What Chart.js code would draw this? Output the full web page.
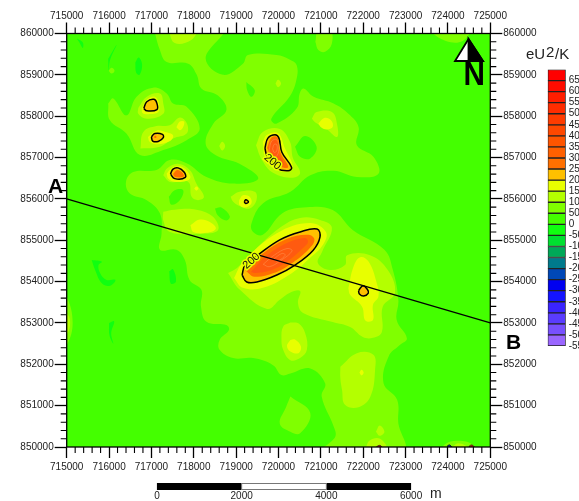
<!DOCTYPE html>
<html>
<head>
<meta charset="utf-8">
<style>
  html, body { margin: 0; padding: 0; background: #fff; overflow: hidden; }
  #mapa { position: absolute; left: 0; top: 0; }
  #barra { position: absolute; left: 545px; top: 60px; }
</style>
<script src="https://cdn.jsdelivr.net/npm/chart.js@4/dist/chart.umd.js"></script>
</head>
<body>
<canvas id="mapa" width="579" height="501"></canvas>
<canvas id="barra" width="34" height="300"></canvas>
<script>
// contour outlines, in map metres
const nivel50Principal = [[717060,860100],[718690,860100],[718280,859400],[718690,859000],[719160,859270],[719280,859480],[719950,859480],[720260,859370],[720430,859230],[720420,858870],[720260,858470],[719830,857940],[719950,857820],[720430,858190],[720500,858550],[720590,858670],[720830,858470],[721300,858310],[721650,858060],[721890,857740],[721850,857300],[722240,857020],[722360,856610],[721850,856530],[721300,856680],[720750,856570],[720280,856170],[719630,855890],[719360,855400],[719400,855200],[719630,855130],[720100,855660],[720670,855800],[721280,855730],[721750,855250],[722500,854770],[722700,854280],[722830,853550],[722790,853070],[723030,852630],[722870,852470],[722600,852190],[722480,851540],[722800,851140],[722830,850570],[722950,849930],[721060,849930],[721340,850250],[721300,850500],[721020,851220],[721100,851540],[720750,851900],[720280,851780],[720070,851740],[719870,851980],[719400,852150],[718930,852150],[718610,852350],[718610,852590],[718830,852830],[718770,852950],[718300,853030],[718170,853400],[718180,853800],[717900,854040],[717790,854520],[717590,854770],[717200,854770],[717240,855170],[717200,855650],[716890,855970],[716490,856130],[716400,856410],[716570,856650],[717120,856700],[717430,856940],[717830,856860],[718300,856530],[718930,856370],[719520,856490],[719080,856850],[718530,857050],[718280,857340],[718460,857820],[718770,858150],[718570,858500],[718180,858670],[718070,859000],[717870,859270],[717360,859310],[717200,859600]];
const nivel50Ilha = [[715980,858310],[716100,858430],[716410,858020],[716650,858470],[717040,858690],[717360,858550],[717510,858310],[717830,858230],[718140,857700],[717830,857420],[717280,857180],[716730,857060],[716410,857580],[716020,857900]];
const nivel50Sul = [[720280,851220],[720750,850820],[720510,850330],[720280,850370],[720030,850570],[720180,850970]];
const nivel50Topo = [[720870,859800],[720940,860100],[721220,860100],[721260,859760],[721100,859560],[720940,859600]];
const nivel50Canto = [[723500,860100],[723950,859820],[724350,859820],[724500,860100]];
const nivel50Borda = [[714900,853600],[715020,853600],[715140,853000],[715020,852500],[714900,852500]];
const nivel50Base = [[723800,849900],[723950,850080],[724200,850150],[724550,850080],[724650,849900]];
const nivel50Ponto = [[715990,859100],[716060,859170],[716130,859100],[716060,859030]];

const buraco1 = [[717410,856050],[717550,856210],[717750,856210],[717670,855970],[717470,855860]];
const buraco2 = [[718500,855770],[718650,855790],[718850,855580],[718770,855480],[718570,855600]];
const buraco3 = [[719240,858830],[719440,858630],[719360,858470],[719260,858630]];
const buraco4 = [[720390,857260],[720630,857520],[720900,857260],[720750,856980],[720510,857020]];

const negativo1 = [[716620,859300],[716700,859420],[716780,859250],[716720,859000],[716640,859050]];
const negativo2 = [[715590,854520],[715830,854480],[715750,854400],[715790,854200],[715940,854040],[716150,854040],[716020,853900],[715830,853960],[715670,854280]];
const negativo3 = [[715980,859390],[716180,859730],[716020,859350],[715990,859100]];
const negativo4 = [[717420,854250],[717510,854300],[717580,854000],[717460,853950]];
const negativo5 = [[716000,853000],[716120,853040],[716050,852750],[716100,852500],[716010,852700]];
const negativo6 = [[715240,859880],[715380,859780],[715380,859650],[715290,859800]];

const nivel100a = [[716690,858200],[716890,858470],[717200,858550],[717280,858310],[717280,858060],[716890,857940],[716690,858060]];
const nivel100b = [[716740,857220],[716810,857620],[717120,857760],[717430,857780],[717670,857970],[717840,857820],[717830,857580],[717510,857460],[717200,857260]];
const nivel100c = [[717280,856570],[717360,856730],[717630,856850],[717910,856690],[718060,856370],[718240,856050],[718100,855970],[717950,856050],[717870,856410],[717440,856410]];
const nivel100d = [[718870,856050],[719080,856170],[719440,856170],[719480,855970],[719320,855770],[719120,855810],[718930,855930]];
const nivel100e = [[717280,855690],[717550,855740],[718060,855740],[718460,855560],[718570,855240],[718140,855160],[717440,855200],[717280,855480]];
const nivel100f = [[719470,857300],[719630,857620],[720030,857690],[720270,857380],[720340,856990],[720510,856630],[720340,856510],[719870,856630],[719610,856940]];
const nivel100g = [[720790,857940],[720900,858100],[721260,858100],[721380,857820],[721380,857500],[721100,857720],[720870,857850]];
const nivel100Centro = [[718810,854210],[719090,853800],[719730,853340],[720030,853560],[720270,853730],[720510,853770],[720460,853480],[720580,853240],[721280,853020],[721690,852900],[721990,852660],[722230,852640],[722440,852780],[722460,853390],[722750,853730],[722580,854280],[722160,854640],[721620,854640],[721570,854400],[721210,854280],[720930,854450],[721030,854720],[721260,855300],[720980,855490],[720510,855540],[720030,855300],[719400,854720],[719020,854330]];
const nivel100h = [[720280,853010],[720470,852990],[720630,852750],[720670,852350],[720510,852150],[720280,852100],[720110,852350],[720070,852630],[720110,852910]];
const nivel100i = [[721460,851940],[721850,852270],[722240,852230],[722280,851860],[722170,851220],[721890,850960],[721570,851020],[721500,851380],[721460,851660]];
const nivel100j = [[722300,850370],[722390,850520],[722500,850370],[722390,850270]];
const nivel100k = [[722050,849950],[722150,850160],[722400,850200],[722550,849950]];
const nivel100l = [[717400,860100],[717550,859770],[717950,859850],[718050,860100]];
const nivel100m = [[718600,857280],[718670,857380],[718740,857280],[718670,857170]];
const nivel100n = [[719930,858790],[719990,858880],[720060,858790],[719990,858700]];
const nivel100o = [[714900,853300],[715030,853200],[715080,853000],[715020,852750],[714900,852700]];
const nivel100p = [[724100,850000],[724250,850090],[724450,850000]];

const nivel150a = [[716770,858190],[716890,858400],[717080,858470],[717180,858310],[717160,858100],[716930,858050],[716790,858080]];
const nivel150b = [[716920,857500],[717120,857650],[717320,857620],[717510,857540],[717440,857400],[717120,857320],[716960,857380]];
const nivel150c = [[717590,857730],[717670,857870],[717770,857870],[717750,857740],[717670,857660]];
const nivel150d = [[717360,856610],[717480,856750],[717670,856790],[717830,856690],[717910,856490],[717590,856410],[717400,856490]];
const nivel150e = [[718010,856250],[718060,856300],[718110,856250],[718060,856200]];
const nivel150f = [[719070,855970],[719160,856090],[719320,856050],[719360,855890],[719200,855790],[719080,855850]];
const nivel150g = [[717920,855360],[718140,855500],[718380,855440],[718520,855280],[718300,855180],[717990,855200]];
const nivel150h = [[719630,857380],[719730,857550],[719990,857590],[720150,857230],[720340,856770],[720220,856650],[719870,856750],[719680,857010]];
const nivel150i = [[720940,857820],[721090,857960],[721240,857900],[721280,857740],[721140,857680],[721020,857720]];
const nivel150Centro = [[718950,854090],[719160,854470],[719960,855170],[720740,855420],[721120,855200],[721050,854890],[720740,854570],[720320,854210],[719630,853850],[719160,853850]];
const nivel150j = [[721650,853840],[721770,854360],[721930,854590],[722130,854480],[722320,853960],[722360,853640],[722230,853440],[722230,853070],[722050,853060],[721970,853400],[721690,853680]];
const nivel150k = [[720280,852590],[720390,852600],[720530,852430],[720470,852270],[720280,852310],[720200,852450]];
const nivel150l = [[721910,851800],[721960,851870],[722010,851800],[721960,851730]];
const nivel150m = [[722300,849950],[722380,850040],[722460,849950]];

const nivel200a = [[716820,858190],[716890,858350],[717060,858410],[717130,858310],[717130,858160],[716890,858130]];
const nivel200b = [[717000,857500],[717080,857580],[717260,857560],[717280,857480],[717160,857390],[717030,857400]];
const nivel200c = [[717450,856600],[717510,856720],[717630,856750],[717770,856650],[717800,856520],[717550,856490]];
const nivel200d = [[719190,855930],[719230,855980],[719290,855930],[719230,855890]];
const nivel200e = [[719680,857230],[719750,857470],[719920,857550],[720010,857470],[720080,857130],[720310,856760],[720230,856680],[719960,856740],[719830,856930],[719720,857060]];
const nivel200Centro = [[719140,854160],[719210,854400],[719510,854640],[720030,855010],[720510,855200],[720910,855270],[720980,855080],[720820,854760],[720390,854400],[719960,854160],[719490,853990],[719250,853990]];
const nivel200f = [[721890,853780],[721990,853900],[722100,853810],[722120,853720],[722010,853650],[721910,853700]];

const nivel250a = [[719730,857230],[719830,857480],[719970,857490],[720050,857110],[720230,856770],[720030,856790],[719840,857000]];
const nivel250Centro = [[719220,854270],[719610,854660],[720190,855030],[720710,855130],[720850,855010],[720720,854790],[720280,854420],[719870,854200],[719430,854120]];
const nivel250b = [[717510,856600],[717610,856700],[717730,856630],[717760,856540],[717560,856530]];
const nivel250c = [[717060,857500],[717090,857530],[717120,857500],[717090,857470]];
const nivel300Centro = [[719350,854233],[719680,854596],[720199,854934],[720624,855055],[720695,854958],[720577,854813],[720223,854499],[719845,854282],[719468,854209]];
const nivel300a = [[719790,857220],[719860,857440],[719950,857430],[720000,857110],[720130,856830],[720020,856860],[719880,857020]];

const anel1 = [[719640,854420],[719900,854640],[720200,854800],[720320,854740],[720040,854500],[719780,854360]];
const anel2 = [[719880,854540],[720080,854680],[720160,854640],[719980,854500]];
const anel3 = [[719780,857180],[719840,857400],[719960,857430],[720010,857200],[719940,857020],[719830,857060]];
const anel4 = [[719860,857210],[719900,857320],[719960,857310],[719960,857170],[719900,857120]];

const manchaAzul = [[723990,850030],[724040,850050],[724080,850000],[724000,849980]];
const manchaVermelha = [[724500,850020],[724560,850050],[724620,850000],[724530,849980]];
const manchaSul = [[722310,850000],[722380,850040],[722440,850000],[722380,849970]];

const perfilAB = [[715000,856000],[725000,853000]];

const rotulos200 = [
  { x: 719360, y: 854500, ang: -42 },
  { x: 719857, y: 856893, ang: 40 }
];

// legend: each cell is labelled at its bottom edge
const valoresEscala = [650,600,550,500,450,400,350,300,250,200,150,100,50,0,-50,-100,-150,-200,-250,-300,-350,-400,-450,-500,-550];
const coresEscala = ['#ff0000','#ff0c00','#ff1e00','#ff2d00','#ff3c00','#ff4800','#ff5500','#ff6000','#ff7000','#ffc000','#e8ff00','#b4ff00','#80ff00','#44ff00','#10ff10','#00e030','#00a858','#007a8c','#0048b8','#0000f0','#1414ff','#3a24ff','#5a3cff','#7850ff','#9a66ff'];
const marcasBarra = [0,2000,4000,6000];

const COR = { fundo: '#44ff00', n50: '#80ff00', n100: '#b4ff00', n150: '#e8ff00', n200: '#ffc000', n250: '#ff7000', n300: '#ff5a10', neg: '#10ff10' };
const FONTE = '"Liberation Sans", Arial, sans-serif';
const TEXTO = '#222';

const camadas = [
  { cor: COR.n50, polys: [nivel50Principal, nivel50Ilha, nivel50Sul, nivel50Topo, nivel50Canto, nivel50Borda, nivel50Base, nivel50Ponto] },
  { cor: COR.fundo, polys: [buraco1, buraco2, buraco3, buraco4] },
  { cor: COR.neg, polys: [negativo1, negativo2, negativo3, negativo4, negativo5, negativo6] },
  { cor: COR.n100, polys: [nivel100a, nivel100b, nivel100c, nivel100d, nivel100e, nivel100f, nivel100g, nivel100Centro, nivel100h, nivel100i, nivel100j, nivel100k, nivel100l, nivel100m, nivel100n, nivel100o, nivel100p] },
  { cor: COR.n150, polys: [nivel150a, nivel150b, nivel150c, nivel150d, nivel150e, nivel150f, nivel150g, nivel150h, nivel150i, nivel150Centro, nivel150j, nivel150k, nivel150l, nivel150m] },
  { cor: COR.n200, polys: [nivel200a, nivel200b, nivel200c, nivel200d, nivel200e, nivel200Centro, nivel200f], contorno: '#000', largura: 1.5 },
  { cor: COR.n250, polys: [nivel250a, nivel250Centro, nivel250b, nivel250c] },
  { cor: COR.n300, polys: [nivel300Centro, nivel300a] },
  { cor: COR.n300, polys: [anel1, anel2, anel3, anel4], contorno: 'rgba(255,190,130,0.5)', largura: 0.6 },
  { cor: '#123c9c', polys: [manchaAzul], contorno: '#000', largura: 0.8 },
  { cor: '#d02000', polys: [manchaVermelha, manchaSul], contorno: '#222', largura: 0.8 }
];

// painting order: in Chart.js the lowest "order" ends up on top
const datasets = [];
camadas.forEach(c => {
  c.polys.forEach(p => {
    datasets.push({
      data: [...p, p[0]].map(v => ({ x: v[0], y: v[1] })),
      showLine: true,
      fill: 'shape',
      tension: 0.4,
      pointRadius: 0,
      backgroundColor: c.cor,
      borderColor: c.contorno || 'transparent',
      borderWidth: c.contorno ? c.largura : 0,
      order: -datasets.length
    });
  });
});
datasets.push({
  data: perfilAB.map(v => ({ x: v[0], y: v[1] })),
  showLine: true,
  fill: false,
  pointRadius: 0,
  borderColor: '#000',
  borderWidth: 1.2,
  order: -datasets.length
});

function eixoX(pos, alto, folga) {
  return {
    type: 'linear', axis: 'x', position: pos, min: 715000, max: 725000,
    afterFit: s => { s.height = alto; },
    grid: { drawOnChartArea: false, tickLength: 11, tickColor: '#000', tickWidth: 1.3 },
    border: { display: false },
    ticks: { stepSize: 1000, maxRotation: 0, autoSkip: false, padding: folga, color: TEXTO, font: { family: FONTE, size: 10 }, callback: v => String(v) }
  };
}
function eixoY(pos, largo) {
  return {
    type: 'linear', axis: 'y', position: pos, min: 850000, max: 860000,
    afterFit: s => { s.width = largo; },
    grid: { drawOnChartArea: false, tickLength: 12, tickColor: '#000', tickWidth: 1.3 },
    border: { display: false },
    ticks: { stepSize: 1000, autoSkip: false, padding: 1, color: TEXTO, font: { family: FONTE, size: 10 }, callback: v => String(v) }
  };
}

function texto(ctx, s, x, y, fonte, alinhar) {
  ctx.font = fonte;
  ctx.textAlign = alinhar || 'left';
  ctx.textBaseline = 'alphabetic';
  ctx.fillText(s, x, y);
}

const mapaPlugin = {
  id: 'mapaPlugin',
  beforeDatasetsDraw(chart) {
    const a = chart.chartArea, ctx = chart.ctx;
    ctx.fillStyle = COR.fundo;
    ctx.fillRect(a.left, a.top, a.width, a.height);
  },
  afterDraw(chart) {
    const a = chart.chartArea, ctx = chart.ctx;
    const sx = chart.scales.x, sy = chart.scales.y;
    ctx.save();
    ctx.strokeStyle = '#000';
    ctx.lineWidth = 1.3;
    ctx.strokeRect(a.left, a.top, a.width, a.height);

    // minor ticks every 200 m on all four sides
    ctx.lineWidth = 1.1;
    ctx.beginPath();
    for (let v = 0; v <= 10000; v += 200) {
      if (v % 1000 === 0) continue;
      const px = sx.getPixelForValue(715000 + v);
      const py = sy.getPixelForValue(850000 + v);
      ctx.moveTo(px, a.top - 6); ctx.lineTo(px, a.top);
      ctx.moveTo(px, a.bottom); ctx.lineTo(px, a.bottom + 6);
      ctx.moveTo(a.left - 6, py); ctx.lineTo(a.left, py);
      ctx.moveTo(a.right, py); ctx.lineTo(a.right + 6, py);
    }
    ctx.stroke();

    // contour labels, the stroke opens a gap in the contour line
    rotulos200.forEach(r => {
      ctx.save();
      ctx.translate(sx.getPixelForValue(r.x), sy.getPixelForValue(r.y));
      ctx.rotate(r.ang * Math.PI / 180);
      ctx.font = '11px ' + FONTE;
      ctx.textAlign = 'center';
      ctx.textBaseline = 'middle';
      ctx.strokeStyle = COR.n150;
      ctx.lineWidth = 3;
      ctx.strokeText('200', 0, 0);
      ctx.fillStyle = '#111';
      ctx.fillText('200', 0, 0);
      ctx.restore();
    });

    // profile letters
    ctx.fillStyle = '#000';
    texto(ctx, 'A', 48, 193, 'bold 21px ' + FONTE);
    texto(ctx, 'B', 506, 349, 'bold 21px ' + FONTE);

    // north arrow
    ctx.strokeStyle = '#000';
    ctx.lineWidth = 1.8;
    ctx.lineJoin = 'miter';
    ctx.fillStyle = '#fff';
    ctx.beginPath();
    ctx.moveTo(468.5, 39); ctx.lineTo(455, 61); ctx.lineTo(483, 61); ctx.closePath();
    ctx.fill(); ctx.stroke();
    ctx.fillStyle = '#000';
    ctx.beginPath();
    ctx.moveTo(468.5, 39); ctx.lineTo(468.5, 61); ctx.lineTo(483, 61); ctx.closePath();
    ctx.fill(); ctx.stroke();
    ctx.save();
    ctx.translate(463.5, 85);
    ctx.scale(0.9, 1);
    texto(ctx, 'N', 0, 0, 'bold 33px ' + FONTE);
    ctx.restore();

    // legend title
    ctx.fillStyle = '#222';
    texto(ctx, 'eU', 526, 59, '15px ' + FONTE);
    texto(ctx, '2', 546, 57, '15px ' + FONTE);
    texto(ctx, '/K', 555, 59, '15px ' + FONTE);

    // scale bar
    const inicio = 717130;
    const bx = marcasBarra.map(m => sx.getPixelForValue(inicio + m));
    ctx.fillStyle = '#000';
    ctx.fillRect(bx[0], 483, bx[1] - bx[0], 7);
    ctx.fillRect(bx[2], 483, bx[3] - bx[2], 7);
    ctx.strokeStyle = '#777';
    ctx.lineWidth = 1;
    ctx.strokeRect(bx[1], 483.5, bx[2] - bx[1], 6);
    ctx.fillStyle = TEXTO;
    marcasBarra.forEach((m, i) => texto(ctx, String(m), bx[i], 499, '10px ' + FONTE, 'center'));
    texto(ctx, 'm', 430, 498, '14px ' + FONTE);
    ctx.restore();
  }
};

new Chart(document.getElementById('mapa').getContext('2d'), {
  type: 'scatter',
  data: { datasets },
  plugins: [mapaPlugin],
  options: {
    responsive: false,
    animation: false,
    layout: { padding: 0 },
    plugins: { legend: { display: false }, tooltip: { enabled: false } },
    scales: {
      x: eixoX('bottom', 54, 3),
      xTopo: eixoX('top', 33.5, 0),
      y: eixoY('left', 66.7),
      yDireita: eixoY('right', 88.7)
    }
  }
});

// colour scale, a floating bar per class
new Chart(document.getElementById('barra').getContext('2d'), {
  type: 'bar',
  data: {
    labels: ['eU2/K'],
    datasets: valoresEscala.map((v, i) => ({
      data: [[v, v + 50]],
      backgroundColor: coresEscala[i],
      borderColor: '#222',
      borderWidth: 1,
      borderSkipped: false,
      barPercentage: 1,
      categoryPercentage: 1,
      grouped: false
    }))
  },
  options: {
    responsive: false,
    animation: false,
    layout: { padding: { left: 2.7, top: 9.5, bottom: 14 } },
    plugins: { legend: { display: false }, tooltip: { enabled: false } },
    scales: {
      x: { display: false },
      y: {
        position: 'right', min: -550, max: 700,
        afterFit: s => { s.width = 13.3; },
        grid: { display: false, drawTicks: false },
        border: { display: false },
        ticks: { stepSize: 50, autoSkip: false, padding: 3, color: TEXTO, font: { family: FONTE, size: 10 }, callback: v => (v === 700 ? '' : String(v)) }
      }
    }
  }
});
</script>
</body>
</html>
